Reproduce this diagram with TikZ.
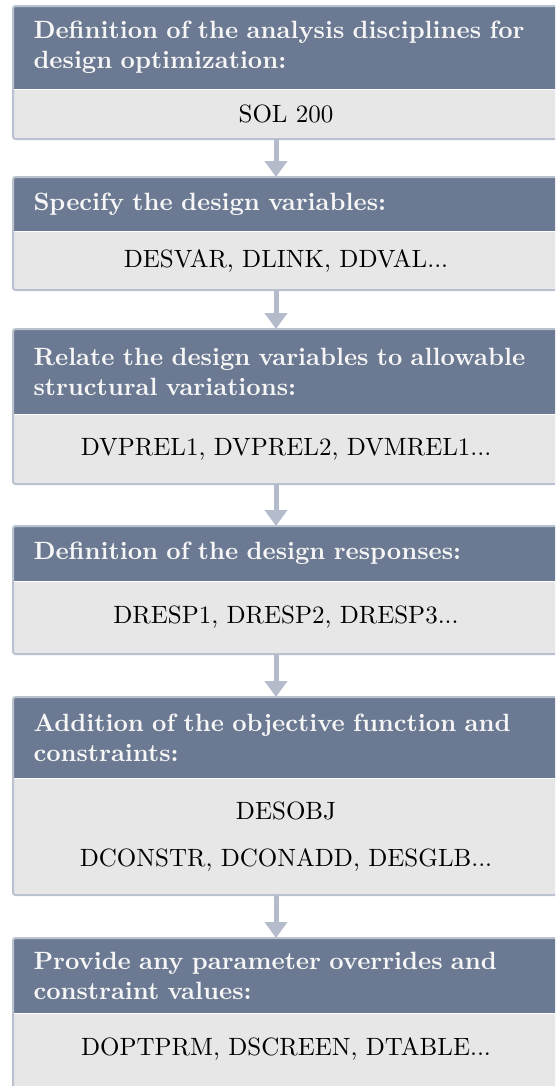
\documentclass[tikz,border=0pt]{standalone}
\usetikzlibrary{arrows.meta}
\definecolor{headfill}{RGB}{107,122,146}
\definecolor{bodyfill}{RGB}{231,231,231}
\definecolor{edgecol}{RGB}{186,194,207}
\definecolor{arrowcol}{RGB}{180,188,203}
\definecolor{headtext}{RGB}{246,246,246}

\begin{document}
\begin{tikzpicture}[x=0.4pt,y=-0.4pt,
  head/.style={anchor=north west, fill=headfill, text=headtext, font=\bfseries,
    text width=202pt, align=left, inner xsep=8pt, inner ysep=1pt},
  body/.style={anchor=north west, fill=bodyfill, text=black,
    text width=202pt, align=center, inner xsep=8pt, inner ysep=1pt},
  outline/.style={draw=edgecol, line width=0.8pt, rounded corners=1pt},
  flow/.style={draw=arrowcol, line width=2pt, -{Triangle[width=8.8pt,length=6.4pt]}}
]
\clip (0,0) rectangle (555,1086);
\fill[white] (0,0) rectangle (555,1086);

% column of the connecting arrows
\coordinate (ax) at (276,0);

% step 1
\node[head, minimum height=32.8pt] (h1) at (13,6)
  {Definition of the analysis disciplines for\\ design optimization:};
\node[body, minimum height=19.6pt] (b1) at (h1.south west) {SOL 200};
\draw[outline] (h1.north west) rectangle (b1.south east);

% step 2
\node[head, minimum height=21.2pt] (h2) at (13,177)
  {Specify the design variables:};
\node[body, minimum height=23.2pt] (b2) at (h2.south west) {DESVAR, DLINK, DDVAL...};
\draw[outline] (h2.north west) rectangle (b2.south east);

% step 3
\node[head, minimum height=33.6pt] (h3) at (13,329)
  {Relate the design variables to allowable\\ structural variations:};
\node[body, minimum height=27.6pt] (b3) at (h3.south west) {DVPREL1, DVPREL2, DVMREL1...};
\draw[outline] (h3.north west) rectangle (b3.south east);

% step 4
\node[head, minimum height=21.6pt] (h4) at (13,526)
  {Definition of the design responses:};
\node[body, minimum height=28.8pt] (b4) at (h4.south west) {DRESP1, DRESP2, DRESP3...};
\draw[outline] (h4.north west) rectangle (b4.south east);

% step 5
\node[head, minimum height=32pt] (h5) at (13,697)
  {Addition of the objective function and\\ constraints:};
\node[body, minimum height=46.4pt] (b5) at (h5.south west)
  {DESOBJ\\[7pt] DCONSTR, DCONADD, DESGLB...};
\draw[outline] (h5.north west) rectangle (b5.south east);

% step 6
\node[head, minimum height=29.6pt] (h6) at (13,938)
  {Provide any parameter overrides and\\ constraint values:};
\node[body, minimum height=35.2pt, text depth=9pt] (b6) at (h6.south west)
  {DOPTPRM, DSCREEN, DTABLE...};
\draw[outline] (h6.north west) rectangle (b6.south east);

% connectors
\draw[flow] (b1.south -| ax) -- (h2.north -| ax);
\draw[flow] (b2.south -| ax) -- (h3.north -| ax);
\draw[flow] (b3.south -| ax) -- (h4.north -| ax);
\draw[flow] (b4.south -| ax) -- (h5.north -| ax);
\draw[flow] (b5.south -| ax) -- (h6.north -| ax);
\end{tikzpicture}
\end{document}
